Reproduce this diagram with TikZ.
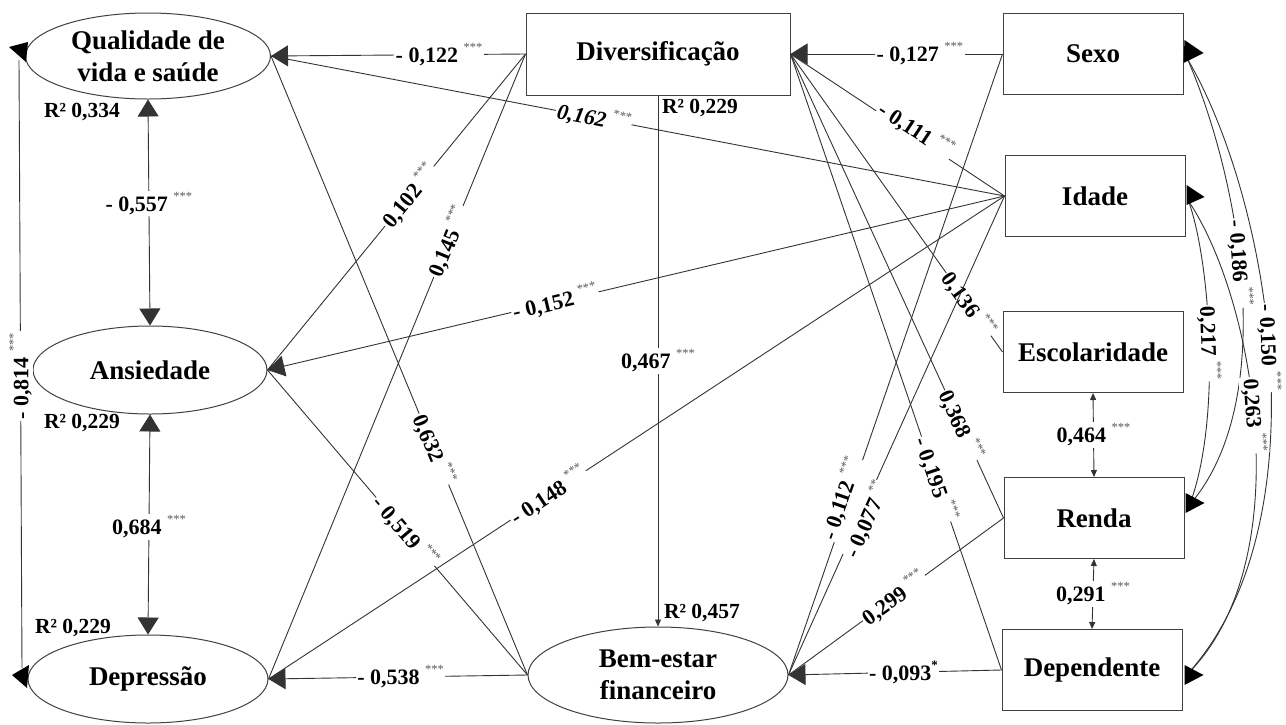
\documentclass[tikz,border=0pt]{standalone}
\usepackage{fontspec}
\setmainfont{Liberation Serif}
\usetikzlibrary{arrows.meta,shapes.geometric,calc}
\newcommand\sigst[1]{\hspace{0.25em}\raisebox{0.5em}{\fontsize{12.5}{12}\selectfont\mdseries\color{black!65}#1}}
\tikzset{
 ell/.style={draw=black!75, line width=1pt, ellipse, inner sep=0pt, font=\fontsize{27}{32}\selectfont\bfseries, align=center},
 box/.style={draw=black!75, line width=1pt, rectangle, minimum width=180pt, minimum height=81pt, inner sep=0pt, font=\fontsize{27}{32}\selectfont\bfseries},
 edge/.style={draw=black!80, line width=0.9pt},
 big/.style={-{Triangle[length=17pt,width=21pt]}},
 bigboth/.style={{Triangle[length=17pt,width=21pt]}-{Triangle[length=17pt,width=21pt]}},
 smallboth/.style={{Triangle[length=7pt,width=6pt]}-{Triangle[length=7pt,width=6pt]}},
 smallend/.style={-{Triangle[length=7pt,width=6pt]}},
 lbl/.style={fill=white, inner sep=1.5pt, font=\fontsize{22}{23}\selectfont\bfseries},
 rsq/.style={inner sep=0pt, font=\fontsize{21.5}{22}\selectfont\bfseries},
}
\begin{document}
\begin{tikzpicture}[x=1pt,y=-1pt]
\useasboundingbox (0,0) rectangle (1286,724);
% nodes
\node[ell, minimum width=245pt, minimum height=86pt] (Q) at (148,56) {Qualidade de\\vida e saúde};
\node[ell, minimum width=234pt, minimum height=88pt] (A) at (150,370) {Ansiedade};
\node[ell, minimum width=240pt, minimum height=88pt] (D) at (148,679) {Depressão};
\node[ell, minimum width=260pt, minimum height=96pt] (B) at (658,675) {Bem-estar\\financeiro};
\node[box, minimum width=264pt, minimum height=82pt] (V) at (658,54) {Diversificação};
\node[box] (S) at (1093,54) {Sexo};
\node[box] (I) at (1095,196) {Idade};
\node[box] (E) at (1093,352) {Escolaridade};
\node[box] (R) at (1094,518) {Renda};
\node[box] (P) at (1092,670) {Dependente};
% R2
\node[rsq] (rq) at (82,112) {R² 0,334};
\node[rsq] (rv) at (700,108) {R² 0,229};
\node[rsq] (ra) at (82,423) {R² 0,229};
\node[rsq] (rd) at (73,628) {R² 0,229};
\node[rsq] (rb) at (702,613) {R² 0,457};
% left column correlations
\draw[edge, bigboth] (Q.south) -- node[lbl, pos=0.46]{- 0,557\sigst{***}} (A.north);
\draw[edge, bigboth] (A.south) -- node[lbl, pos=0.51]{0,684\sigst{***}} (D.north);
\coordinate (qL) at (19,60);
\coordinate (dL) at (22,668);
\draw[edge] (qL) -- node[lbl, pos=0.52, rotate=90]{- 0,814\sigst{***}} (dL);
\fill[black] (9,47) -- (28,42) -- (26,62) -- cycle;
\fill[black] (12,675) -- (29,665) -- (27,688) -- cycle;
% paths
\draw[edge] (I.west) -- node[lbl, pos=0.56, sloped, font=\fontsize{22}{23}\selectfont\bfseries\itshape]{0,162\sigst{***}} (Q.east);
\draw[edge] (B.west) -- node[lbl,pos=0.365,sloped]{0,632\sigst{***}} (Q.east);
\draw[edge, big] (V.west) -- node[lbl,pos=0.34]{- 0,122\sigst{***}} (Q.east);
\draw[edge] (V.west) -- node[lbl,pos=0.45,sloped]{0,102\sigst{***}} (A.east);
\draw[edge] (V.west) -- node[lbl,pos=0.30,sloped]{0,145\sigst{***}} (D.east);
\draw[edge] (B.west) -- node[lbl,pos=0.47,sloped]{- 0,519\sigst{***}} (A.east);
\draw[edge, big] (I.west) -- node[lbl,pos=0.61,sloped]{- 0,152\sigst{***}} (A.east);
\draw[edge] (I.west) -- node[lbl,pos=0.62,sloped]{- 0,148\sigst{***}} (D.east);
\draw[edge, big] (B.west) -- node[lbl,pos=0.49]{- 0,538\sigst{***}} (D.east);
\draw[edge] (I.west) -- node[lbl,pos=0.43,sloped,above=-7pt]{- 0,111\sigst{***}} (V.east);
\draw[edge] (E.west) -- node[lbl,pos=0.16,sloped]{0,136\sigst{***}} (V.east);
\draw[edge] (R.west) -- node[lbl,pos=0.2,sloped]{0,368\sigst{***}} (V.east);
\draw[edge] (P.west) -- node[lbl,pos=0.31,sloped]{- 0,195\sigst{***}} (V.east);
\draw[edge, big] (S.west) -- node[lbl,pos=0.39]{- 0,127\sigst{***}} (V.east);
\draw[edge, smallend] (V.south) -- node[lbl,pos=0.5]{0,467\sigst{***}} (B.north);
\draw[edge] (I.west) -- node[lbl,pos=0.67,sloped,inner sep=0.5pt,below=-5pt]{- 0,077\sigst{**}} (B.east);
\draw[edge] (S.west) -- node[lbl,pos=0.72,sloped,inner sep=0.5pt,above=-5pt]{- 0,112\sigst{***}} (B.east);
\draw[edge] (R.west) -- node[lbl,pos=0.51,sloped]{0,299\sigst{***}} (B.east);
\draw[edge, big] (P.west) -- node[lbl,pos=0.46]{- 0,093\raisebox{0.5em}{\fontsize{13}{12}\selectfont *}} (B.east);
% right column
\draw[edge, smallboth] (E.south) -- node[lbl,pos=0.5]{0,464\sigst{***}} (R.north);
\draw[edge, smallboth] (R.south) -- node[lbl,pos=0.5]{0,291\sigst{***}} (P.north);
\coordinate (s1) at ($(S.east)+(4,5)$);
\coordinate (i1) at ($(I.east)+(3,5)$);
\coordinate (r1) at ($(R.east)+(5,-13)$);
\coordinate (p1) at ($(P.east)+(6,3)$);
\draw[edge] (s1) .. controls (1240,180) and (1280,400) .. node[lbl,pos=0.45,rotate=-86]{- 0,186\sigst{***}} (r1);
\draw[edge] (s1) .. controls (1270,200) and (1325,520) .. node[lbl,pos=0.48,rotate=-88]{- 0,150\sigst{***}} (p1);
\draw[edge] (i1) .. controls (1210,260) and (1222,420) .. node[lbl,pos=0.5,rotate=-88]{0,217\sigst{***}} (r1);
\draw[edge] (i1) .. controls (1255,300) and (1300,560) .. node[lbl,pos=0.47,rotate=-86]{0,263\sigst{***}} (p1);
\fill[black, shift={(S.east)}] (1,-14) -- (20,-1) -- (0,9) -- cycle;
\fill[black, shift={(I.east)}] (1,-11) -- (19,1) -- (1,9) -- cycle;
\fill[black, shift={(R.east)}] (1,-25) -- (20,-15) -- (1,-5) -- cycle;
\fill[black, shift={(P.east)}] (2,-5) -- (21,5) -- (2,15) -- cycle;
\end{tikzpicture}
\end{document}
